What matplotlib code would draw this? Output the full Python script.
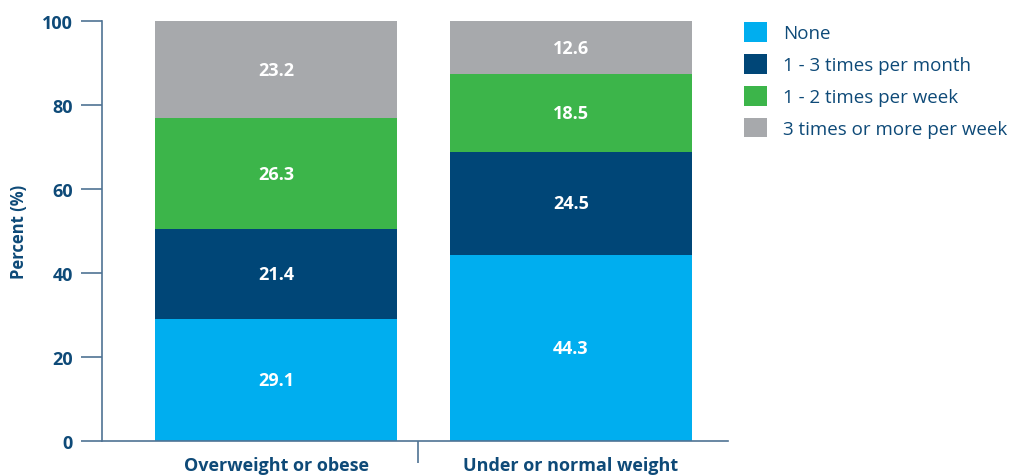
import matplotlib.pyplot as plt
from matplotlib.patches import Patch

plt.rcParams['font.family'] = ['Open Sans', 'DejaVu Sans']

categories = ['Overweight or obese', 'Under or normal weight']
series_names = ['None', '1 - 3 times per month', '1 - 2 times per week', '3 times or more per week']
none_vals = [29.1, 44.3]
month_vals = [21.4, 24.5]
week12_vals = [26.3, 18.5]
week3_vals = [23.2, 12.6]
colors = ['#00aeef', '#004677', '#3cb54a', '#a7a9ac']

text_col = '#0e4a78'
axis_col = '#4f7394'

fig = plt.figure(figsize=(10.12, 4.77), dpi=100)
ax = fig.add_axes([102 / 1012, 35 / 477, 626 / 1012, 420 / 477])

x = [0, 1]
bottom = [0, 0]
for vals, col in zip([none_vals, month_vals, week12_vals, week3_vals], colors):
    bars = ax.bar(x, vals, width=0.82, bottom=bottom, color=col, zorder=2)
    for b, v, btm in zip(bars, vals, bottom):
        ax.text(b.get_x() + b.get_width() / 2, btm + v / 2, f'{v:.1f}',
                ha='center', va='center', color='white', fontsize=13,
                fontweight='bold')
    bottom = [a + b for a, b in zip(bottom, vals)]

ax.set_xlim(-0.59, 1.532)
ax.set_ylim(0, 100)
ax.set_yticks([0, 20, 40, 60, 80, 100])
ax.tick_params(axis='y', direction='out', length=15, width=1.2, color=axis_col,
               labelcolor=text_col, labelsize=13, pad=6)
for lbl in ax.get_yticklabels():
    lbl.set_fontweight('bold')

ax.set_xticks(x)
ax.set_xticklabels(categories, fontsize=13, fontweight='bold', color=text_col)
ax.tick_params(axis='x', which='major', length=0, pad=11)
ax.set_xticks([0.48], minor=True)
ax.tick_params(axis='x', which='minor', length=16, width=1.2, color=axis_col)

for s in ['top', 'right']:
    ax.spines[s].set_visible(False)
for s in ['left', 'bottom']:
    ax.spines[s].set_color(axis_col)
    ax.spines[s].set_linewidth(1.2)

ax.set_ylabel('Percent (%)', fontsize=12, fontweight='bold', color=text_col, labelpad=10)

handles = [Patch(facecolor=c, edgecolor='none') for c in colors]
fig.legend(handles, series_names, loc='upper left', bbox_to_anchor=(744 / 1012, 1 - 23 / 477),
           frameon=False, fontsize=13.5, labelcolor=text_col, handlelength=1.25,
           handleheight=1.25, handletextpad=0.85, labelspacing=0.62, borderaxespad=0,
           borderpad=0)

fig.savefig('out.png', dpi=100)
